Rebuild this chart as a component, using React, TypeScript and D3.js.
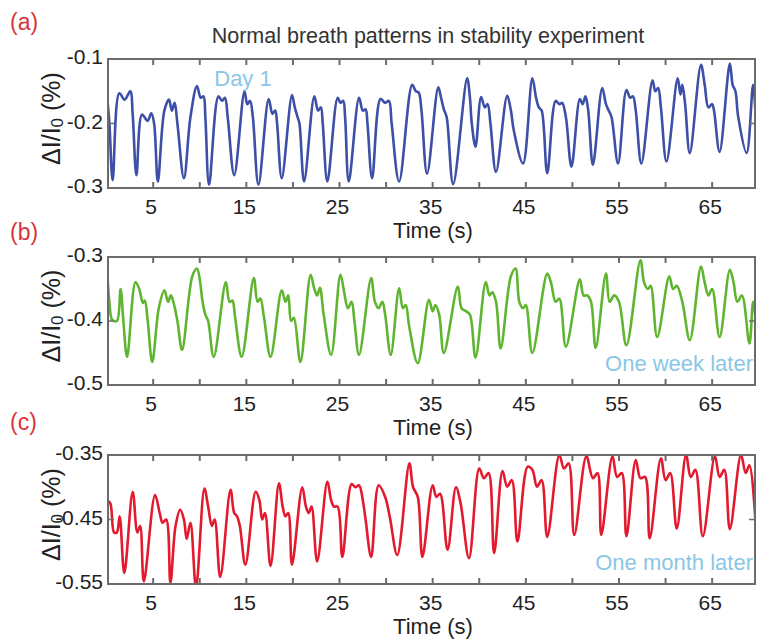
import React from 'react';
import * as d3 from 'd3';

// ---- data (time s, ΔI/I0 %) ----
const day1: [number, number][] = [
  [0.05,-0.158],[0.3,-0.2],[0.65,-0.288],[1.36,-0.153],[1.94,-0.163],[2.54,-0.150],[2.8,-0.186],
  [3.2,-0.28],[3.8,-0.186],[4.4,-0.196],[4.8,-0.184],[5.1,-0.2],
  [5.5,-0.29],[6.2,-0.18],[6.7,-0.163],[7.0,-0.18],[7.3,-0.168],[7.6,-0.2],
  [8.3,-0.285],[9.0,-0.19],[9.7,-0.142],[10.1,-0.16],[10.4,-0.158],[10.6,-0.19],
  [11.0,-0.295],[12.0,-0.158],[12.4,-0.165],[12.7,-0.16],[13.0,-0.19],
  [13.7,-0.28],[14.8,-0.150],[15.1,-0.17],[15.4,-0.165],[15.7,-0.19],
  [16.3,-0.295],[17.4,-0.162],[17.8,-0.185],[18.1,-0.18],[18.3,-0.2],
  [18.8,-0.285],[19.9,-0.156],[20.2,-0.175],[20.5,-0.19],[20.7,-0.2],
  [21.2,-0.29],[22.3,-0.158],[22.7,-0.18],[23.0,-0.175],[23.2,-0.2],
  [23.7,-0.29],[24.8,-0.160],[25.1,-0.168],[25.4,-0.165],[25.6,-0.19],
  [26.0,-0.29],[27.1,-0.160],[27.5,-0.18],[27.8,-0.178],[28.0,-0.2],
  [28.5,-0.285],[29.4,-0.162],[29.9,-0.168],[30.3,-0.165],[30.6,-0.2],
  [31.4,-0.29],[32.8,-0.140],[33.2,-0.15],[33.5,-0.152],[33.8,-0.18],
  [34.4,-0.278],[35.6,-0.144],[35.9,-0.16],[36.2,-0.178],[36.5,-0.19],
  [37.2,-0.294],[38.7,-0.130],[39.0,-0.16],[39.2,-0.2],
  [39.6,-0.236],[40.2,-0.159],[40.6,-0.175],[40.9,-0.17],[41.2,-0.2],
  [41.8,-0.275],[43.0,-0.157],[43.4,-0.18],[43.7,-0.21],
  [44.7,-0.262],[45.7,-0.130],[46.1,-0.16],[46.4,-0.175],[46.7,-0.18],
  [47.3,-0.277],[48.2,-0.165],[48.6,-0.17],[48.9,-0.168],[49.3,-0.19],
  [49.9,-0.267],[50.8,-0.162],[51.1,-0.17],[51.4,-0.158],[51.7,-0.18],
  [52.2,-0.264],[53.2,-0.145],[53.6,-0.17],[53.9,-0.18],[54.2,-0.19],
  [54.9,-0.262],[55.8,-0.148],[56.2,-0.16],[56.5,-0.158],[56.8,-0.18],
  [57.4,-0.262],[58.6,-0.133],[58.9,-0.15],[59.2,-0.145],[59.5,-0.175],
  [60.1,-0.259],[61.3,-0.130],[61.6,-0.155],[61.8,-0.14],[62.1,-0.17],
  [62.6,-0.246],[63.8,-0.109],[64.2,-0.14],[64.6,-0.175],[65.0,-0.17],[65.2,-0.18],
  [65.8,-0.244],[66.9,-0.107],[67.2,-0.14],[67.5,-0.15],[67.8,-0.19],
  [68.7,-0.246],[69.4,-0.14],[69.7,-0.2],
];

const oneWeek: [number, number][] = [
  [0.05,-0.318],[0.3,-0.37],[0.6,-0.398],[1.1,-0.400],[1.5,-0.35],[1.8,-0.40],
  [2.2,-0.456],[3.1,-0.339],[3.5,-0.35],[3.9,-0.372],[4.1,-0.368],[4.4,-0.398],
  [4.9,-0.464],[5.6,-0.38],[6.2,-0.352],[6.6,-0.37],[6.9,-0.36],[7.2,-0.372],[7.6,-0.40],
  [8.1,-0.445],[9.2,-0.33],[9.7,-0.318],[10.0,-0.335],[10.3,-0.37],[10.6,-0.39],[10.9,-0.40],
  [11.5,-0.456],[12.8,-0.339],[13.2,-0.37],[13.5,-0.368],[13.8,-0.395],
  [14.5,-0.456],[15.8,-0.333],[16.2,-0.37],[16.5,-0.365],[16.9,-0.395],
  [17.6,-0.456],[18.8,-0.352],[19.2,-0.37],[19.5,-0.36],[19.8,-0.40],[20.1,-0.395],
  [20.8,-0.464],[21.9,-0.328],[22.3,-0.35],[22.6,-0.36],[22.9,-0.348],[23.3,-0.39],
  [24.1,-0.453],[25.1,-0.328],[25.5,-0.355],[25.9,-0.38],[26.3,-0.37],[26.6,-0.40],
  [27.1,-0.453],[28.4,-0.333],[28.8,-0.37],[29.2,-0.38],[29.6,-0.37],[29.9,-0.39],
  [30.5,-0.453],[31.4,-0.349],[31.8,-0.38],[32.1,-0.375],[32.5,-0.41],
  [33.4,-0.466],[34.6,-0.367],[35.0,-0.385],[35.3,-0.375],[35.7,-0.39],
  [36.2,-0.45],[37.7,-0.346],[38.1,-0.38],[38.6,-0.385],[39.0,-0.39],
  [39.6,-0.457],[40.7,-0.339],[41.1,-0.36],[41.4,-0.355],[41.8,-0.37],
  [42.3,-0.443],[43.4,-0.33],[43.9,-0.318],[44.3,-0.37],[44.7,-0.38],[45.0,-0.375],
  [45.7,-0.45],[47.3,-0.326],[47.7,-0.34],[48.2,-0.37],[48.6,-0.365],
  [49.3,-0.44],[50.8,-0.335],[51.2,-0.36],[51.6,-0.36],[52.0,-0.37],
  [52.5,-0.442],[53.6,-0.326],[54.0,-0.37],[54.5,-0.36],[55.0,-0.37],
  [55.8,-0.438],[57.3,-0.305],[57.7,-0.34],[58.1,-0.35],[58.4,-0.345],
  [59.1,-0.425],[60.4,-0.33],[60.8,-0.35],[61.2,-0.345],[61.8,-0.37],
  [62.6,-0.43],[63.8,-0.315],[64.2,-0.34],[64.6,-0.36],[65.0,-0.35],
  [65.8,-0.425],[66.9,-0.32],[67.3,-0.34],[67.7,-0.37],[68.2,-0.36],
  [69.0,-0.435],[69.4,-0.37],[69.7,-0.40],
];

const oneMonth: [number, number][] = [
  [0.05,-0.42],[0.4,-0.425],[0.8,-0.47],[1.1,-0.47],[1.4,-0.445],[1.9,-0.533],
  [2.8,-0.407],[3.3,-0.47],[3.6,-0.46],[4.0,-0.546],
  [5.2,-0.412],[5.7,-0.44],[6.0,-0.455],[6.4,-0.45],[6.85,-0.548],
  [7.4,-0.46],[7.9,-0.435],[8.3,-0.45],[8.6,-0.48],[9.0,-0.455],[9.6,-0.555],
  [10.5,-0.402],[10.9,-0.43],[11.3,-0.46],[11.6,-0.45],[12.2,-0.539],
  [13.3,-0.404],[13.7,-0.44],[14.0,-0.445],[14.3,-0.46],[14.9,-0.52],
  [16.0,-0.407],[16.4,-0.42],[16.7,-0.45],[17.0,-0.44],[17.6,-0.522],
  [18.5,-0.394],[18.9,-0.43],[19.2,-0.445],[19.5,-0.44],[19.9,-0.52],
  [21.0,-0.40],[21.4,-0.43],[21.7,-0.44],[22.0,-0.43],[22.6,-0.515],
  [23.7,-0.391],[24.1,-0.42],[24.4,-0.43],[24.8,-0.43],[25.3,-0.508],
  [26.3,-0.395],[26.7,-0.40],[27.1,-0.397],[27.5,-0.42],[27.8,-0.45],[28.4,-0.508],
  [29.2,-0.397],[29.9,-0.415],[30.4,-0.446],[31.2,-0.505],
  [32.5,-0.363],[32.9,-0.40],[33.4,-0.415],[33.9,-0.508],
  [35.0,-0.397],[35.4,-0.415],[35.8,-0.41],[36.6,-0.497],
  [37.5,-0.40],[38.0,-0.425],[38.9,-0.51],
  [40.0,-0.371],[40.5,-0.386],[41.0,-0.378],[41.6,-0.502],
  [42.5,-0.375],[43.0,-0.399],[43.5,-0.389],[44.1,-0.484],
  [45.2,-0.368],[45.7,-0.373],[46.2,-0.399],[46.7,-0.389],[47.3,-0.477],
  [48.6,-0.35],[49.1,-0.371],[49.6,-0.363],[50.2,-0.474],
  [51.5,-0.352],[52.2,-0.386],[52.7,-0.378],[53.1,-0.474],
  [54.3,-0.352],[54.8,-0.384],[55.3,-0.378],[55.8,-0.476],
  [56.8,-0.358],[57.3,-0.386],[57.8,-0.384],[58.3,-0.479],
  [59.5,-0.355],[60.0,-0.389],[60.5,-0.378],[61.2,-0.464],
  [62.2,-0.35],[62.7,-0.384],[63.2,-0.373],[64.0,-0.476],
  [65.3,-0.352],[65.8,-0.384],[66.3,-0.373],[66.9,-0.465],
  [68.1,-0.35],[68.6,-0.378],[69.0,-0.366],[69.7,-0.466],
];

const xTickValues = [5, 10, 15, 20, 25, 30, 35, 40, 45, 50, 55, 60, 65];
const xTickLabels = [5, 15, 25, 35, 45, 55, 65];
const yTicksA = [-0.1, -0.2, -0.3];
const yTicksB = [-0.3, -0.4, -0.5];
const yTicksC = [-0.35, -0.45, -0.55];
const yLabelsA = ['-0.1', '-0.2', '-0.3'];
const yLabelsB = ['-0.3', '-0.4', '-0.5'];
const yLabelsC = ['-0.35', '-0.45', '-0.55'];

const FONT = "Arial, 'Liberation Sans', Helvetica, sans-serif";
const X0 = 108;
const X1 = 755;
const x = d3.scaleLinear().domain([0.15, 69.6]).range([X0, X1]);

type PanelProps = {
  id: string;
  data: [number, number][];
  domain: [number, number];
  top: number;
  bottom: number;
  color: string;
  ticks: number[];
  labels: string[];
  letter: string;
  letterY: number;
  note: string;
  noteX: number;
  noteY: number;
  noteAnchor: 'start' | 'middle' | 'end';
};

function Panel(p: PanelProps) {
  const y = d3.scaleLinear().domain(p.domain).range([p.bottom, p.top]);
  const line = d3
    .line<[number, number]>()
    .x((d) => x(d[0]))
    .y((d) => y(d[1]))
    .curve(d3.curveCatmullRom.alpha(0.5));
  const midY = (p.top + p.bottom) / 2;
  const frame = '#6b6b6b';
  return (
    <g>
      <defs>
        <clipPath id={`clip-${p.id}`}>
          <rect x={X0} y={p.top} width={X1 - X0} height={p.bottom - p.top} />
        </clipPath>
      </defs>
      <text x={10} y={p.letterY} fontSize={23} fill="#d8343c" fontFamily={FONT}>
        {p.letter}
      </text>
      <rect x={X0} y={p.top} width={X1 - X0} height={p.bottom - p.top} fill="#fff" />
      <path
        d={line(p.data) || ''}
        fill="none"
        stroke={p.color}
        strokeWidth={2.6}
        strokeLinejoin="round"
        clipPath={`url(#clip-${p.id})`}
      />
      <rect x={X0} y={p.top} width={X1 - X0} height={p.bottom - p.top} fill="none" stroke={frame} strokeWidth={2} />
      {xTickValues.map((t) => (
        <g key={t}>
          <line x1={x(t)} x2={x(t)} y1={p.top} y2={p.top + 6} stroke={frame} strokeWidth={2} />
          <line x1={x(t)} x2={x(t)} y1={p.bottom} y2={p.bottom - 6} stroke={frame} strokeWidth={2} />
        </g>
      ))}
      <line x1={X0} x2={X0 + 6} y1={y(p.ticks[1])} y2={y(p.ticks[1])} stroke={frame} strokeWidth={1.5} />
      <line x1={X1} x2={X1 - 6} y1={y(p.ticks[1])} y2={y(p.ticks[1])} stroke={frame} strokeWidth={1.5} />
      {xTickLabels.map((t) => (
        <text key={t} x={x(t) - 2} y={p.bottom + 26} fontSize={21} textAnchor="middle" fill="#222" fontFamily={FONT}>
          {t}
        </text>
      ))}
      {p.ticks.map((v, i) => (
        <text key={v} x={103} y={y(v) + 5} fontSize={21} textAnchor="end" fill="#222" fontFamily={FONT}>
          {p.labels[i]}
        </text>
      ))}
      <text x={433} y={p.bottom + 50} fontSize={22} textAnchor="middle" fill="#222" fontFamily={FONT}>
        Time (s)
      </text>
      <text
        transform={`translate(60, ${midY - 5}) rotate(-90)`}
        fontSize={25}
        textAnchor="middle"
        fill="#222"
        fontFamily={FONT}
      >
        <tspan>ΔI/I</tspan>
        <tspan fontSize={17} dy={3}>0</tspan>
        <tspan dy={-3}> (%)</tspan>
      </text>
      <text x={p.noteX} y={p.noteY} fontSize={22} textAnchor={p.noteAnchor} fill="#8ac6e6" fontFamily={FONT}>
        {p.note}
      </text>
    </g>
  );
}

export default function App() {
  return (
    <svg
      width={758}
      height={643}
      style={{ position: 'absolute', left: 0, top: 0, background: '#fff' }}
    >
      <rect x={0} y={0} width={758} height={643} fill="#fff" />
      <text x={428} y={43} fontSize={21.5} textAnchor="middle" fill="#333" fontFamily={FONT}>
        Normal breath patterns in stability experiment
      </text>
      <Panel
        id="a"
        data={day1}
        domain={[-0.3, -0.1]}
        top={59}
        bottom={188}
        color="#3d4fa6"
        ticks={yTicksA}
        labels={yLabelsA}
        letter="(a)"
        letterY={30}
        note="Day 1"
        noteX={243}
        noteY={86}
        noteAnchor="middle"
      />
      <Panel
        id="b"
        data={oneWeek}
        domain={[-0.5, -0.3]}
        top={257}
        bottom={385}
        color="#5fb52f"
        ticks={yTicksB}
        labels={yLabelsB}
        letter="(b)"
        letterY={240}
        note="One week later"
        noteX={753}
        noteY={371}
        noteAnchor="end"
      />
      <Panel
        id="c"
        data={oneMonth}
        domain={[-0.55, -0.35]}
        top={455}
        bottom={584}
        color="#e3192e"
        ticks={yTicksC}
        labels={yLabelsC}
        letter="(c)"
        letterY={430}
        note="One month later"
        noteX={753}
        noteY={570}
        noteAnchor="end"
      />
    </svg>
  );
}
